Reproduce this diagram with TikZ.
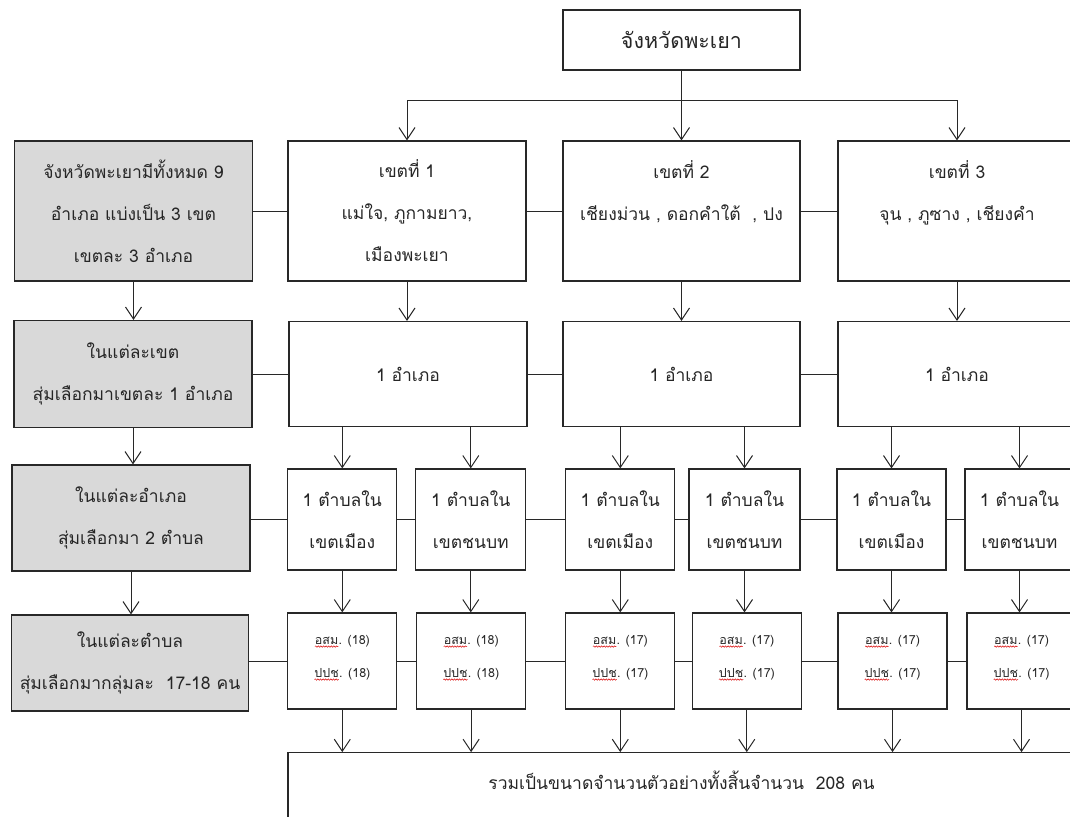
\documentclass[tikz,border=0pt]{standalone}
\usepackage{fontspec}
\setmainfont[Script=Thai]{Loma}
\usetikzlibrary{arrows.meta,decorations.pathmorphing}
\definecolor{gfill}{RGB}{217,217,217}
\definecolor{lcol}{RGB}{40,40,40}
\newcommand\wv[1]{\tikz[baseline=(w.base)]{\node[inner sep=0pt,outer sep=0pt,draw=none,fill=none,minimum width=0pt,minimum height=0pt,anchor=base] (w) at (0,0) {#1};\draw[red!85!black, line width=0.5pt, decorate, decoration={snake,amplitude=0.7pt,segment length=2.6pt}] ([yshift=-2.5pt]w.base west) -- ([yshift=-2.5pt]w.base east);}}
\tikzset{
  x=1pt, y=-1pt,
  box/.style={draw=lcol, line width=1.2pt, inner sep=0pt, align=center, text=black!85,
    font=\fontsize{17.5}{42}\selectfont},
  gbox/.style={box, fill=gfill},
  sbox/.style={box, font=\fontsize{12.5}{33}\selectfont},
  txt/.style={inner sep=0pt, align=center, text=black!85, font=\fontsize{17.5}{42}\selectfont},
  ln/.style={draw=lcol, line width=1pt},
  arr/.style={ln, -{Straight Barb[length=12pt,width=16pt,line width=1pt]}},
}
\begin{document}
\begin{tikzpicture}
\useasboundingbox (0,0) rectangle (1070,816);
\clip (0,0) rectangle (1070,816);
% top
\node[box, minimum width=237pt, minimum height=60pt, font=\fontsize{21.5}{26}\selectfont] (top) at (681.5,40) {จังหวัดพะเยา};
% row 1
\node[gbox, minimum width=238pt, minimum height=140pt] (g1) at (133.5,211) {จังหวัดพะเยามีทั้งหมด 9\\อำเภอ แบ่งเป็น 3 เขต\\เขตละ 3 อำเภอ};
\node[box, minimum width=238pt, minimum height=140pt] (b1) at (407,211) {เขตที่ 1\\แม่ใจ, ภูกามยาว,\\เมืองพะเยา};
\node[box, minimum width=237pt, minimum height=140pt] (b2) at (681.5,211) {เขตที่ 2\\เชียงม่วน , ดอกคำใต้ \ , ปง\\~};
\node[box, minimum width=238pt, minimum height=140pt] (b3) at (957,211) {เขตที่ 3\\จุน , ภูซาง , เชียงคำ\\~};
% row 2
\node[gbox, minimum width=238pt, minimum height=107pt] (g2) at (133,374) {ในแต่ละเขต\\สุ่มเลือกมาเขตละ 1 อำเภอ};
\node[box, minimum width=238pt, minimum height=105pt] (r2a) at (408,374) {1 อำเภอ};
\node[box, minimum width=237pt, minimum height=105pt] (r2b) at (681.5,374) {1 อำเภอ};
\node[box, minimum width=238pt, minimum height=105pt] (r2c) at (957,374) {1 อำเภอ};
% row 3
\node[gbox, minimum width=238pt, minimum height=106pt] (g3) at (131,518) {ในแต่ละอำเภอ\\สุ่มเลือกมา 2 ตำบล};
\node[box, minimum width=109pt, minimum height=101pt] (r3a) at (342.3,519.5) {1 ตำบลใน\\เขตเมือง};
\node[box, minimum width=110pt, minimum height=101pt] (r3b) at (470.8,519.5) {1 ตำบลใน\\เขตชนบท};
\node[box, minimum width=109pt, minimum height=101pt] (r3c) at (620.3,519.5) {1 ตำบลใน\\เขตเมือง};
\node[box, minimum width=111pt, minimum height=101pt] (r3d) at (744.5,519.5) {1 ตำบลใน\\เขตชนบท};
\node[box, minimum width=109pt, minimum height=101pt] (r3e) at (891.5,519.5) {1 ตำบลใน\\เขตเมือง};
\node[box, minimum width=109pt, minimum height=101pt] (r3f) at (1019.5,519.5) {1 ตำบลใน\\เขตชนบท};
% row 4
\node[gbox, minimum width=237pt, minimum height=96pt] (g4) at (130,663) {ในแต่ละตำบล\\สุ่มเลือกมากลุ่มละ~ 17-18 คน};
\node[sbox, minimum width=109pt, minimum height=96pt] (r4a) at (342.3,661) {\wv{อสม}. (18)\\\wv{ปปช}. (18)\\[-23pt]\mbox{}};
\node[sbox, minimum width=109pt, minimum height=96pt] (r4b) at (471.1,661) {\wv{อสม}. (18)\\\wv{ปปช}. (18)\\[-23pt]\mbox{}};
\node[sbox, minimum width=109pt, minimum height=96pt] (r4c) at (620.3,661) {\wv{อสม}. (17)\\\wv{ปปช}. (17)\\[-23pt]\mbox{}};
\node[sbox, minimum width=109pt, minimum height=96pt] (r4d) at (746.8,661) {\wv{อสม}. (17)\\\wv{ปปช}. (17)\\[-23pt]\mbox{}};
\node[sbox, minimum width=109pt, minimum height=96pt] (r4e) at (892.5,661) {\wv{อสม}. (17)\\\wv{ปปช}. (17)\\[-23pt]\mbox{}};
\node[sbox, minimum width=109pt, minimum height=96pt] (r4f) at (1021.5,661) {\wv{อสม}. (17)\\\wv{ปปช}. (17)\\[-23pt]\mbox{}};
% final
\node[box, minimum width=787pt, minimum height=120pt] (fin) at (681.5,812.7) {};
\node[txt] (fint) at (681.5,780.5) {รวมเป็นขนาดจำนวนตัวอย่างทั้งสิ้นจำนวน~ 208 คน};
% top connectors
\coordinate (bus) at (681.5,100);
\draw[ln] (top.south) -- (bus);
\draw[ln] (b1.north |- bus) -- (b3.north |- bus);
\draw[arr] (b1.north |- bus) -- (b1.north);
\draw[arr] (b2.north |- bus) -- (b2.north);
\draw[arr] (b3.north |- bus) -- (b3.north);
% horizontal connectors
\draw[ln] (g1.east) -- (b1.west);
\draw[ln] (b1.east) -- (b2.west);
\draw[ln] (b2.east) -- (b3.west);
\draw[ln] (g2.east) -- (r2a.west);
\draw[ln] (r2a.east) -- (r2b.west);
\draw[ln] (r2b.east) -- (r2c.west);
\draw[ln] (g3.east |- r3a.west) -- (r3a.west);
\draw[ln] (r3a.east) -- (r3b.west);
\draw[ln] (r3b.east) -- (r3c.west);
\draw[ln] (r3c.east) -- (r3d.west);
\draw[ln] (r3d.east) -- (r3e.west);
\draw[ln] (r3e.east) -- (r3f.west);
\draw[ln] (g4.east |- r4a.west) -- (r4a.west);
\draw[ln] (r4a.east) -- (r4b.west);
\draw[ln] (r4b.east) -- (r4c.west);
\draw[ln] (r4c.east) -- (r4d.west);
\draw[ln] (r4d.east) -- (r4e.west);
\draw[ln] (r4e.east) -- (r4f.west);
% left column arrows
\draw[arr] (g1.south) -- (g1.south |- g2.north);
\draw[arr] (g2.south) -- (g2.south |- g3.north);
\draw[arr] (g3.south) -- (g3.south |- g4.north);
% row1 -> row2
\draw[arr] (b1.south) -- (b1.south |- r2a.north);
\draw[arr] (b2.south) -- (b2.south |- r2b.north);
\draw[arr] (b3.south) -- (b3.south |- r2c.north);
% row2 -> row3
\draw[arr] (r3a.north |- r2a.south) -- (r3a.north);
\draw[arr] (r3b.north |- r2a.south) -- (r3b.north);
\draw[arr] (r3c.north |- r2b.south) -- (r3c.north);
\draw[arr] (r3d.north |- r2b.south) -- (r3d.north);
\draw[arr] (r3e.north |- r2c.south) -- (r3e.north);
\draw[arr] (r3f.north |- r2c.south) -- (r3f.north);
% row3 -> row4
\draw[arr] (r3a.south) -- (r3a.south |- r4a.north);
\draw[arr] (r3b.south) -- (r3b.south |- r4b.north);
\draw[arr] (r3c.south) -- (r3c.south |- r4c.north);
\draw[arr] (r3d.south) -- (r3d.south |- r4d.north);
\draw[arr] (r3e.south) -- (r3e.south |- r4e.north);
\draw[arr] (r3f.south) -- (r3f.south |- r4f.north);
% row4 -> final
\draw[arr] (r4a.south) -- (r4a.south |- fin.north);
\draw[arr] (r4b.south) -- (r4b.south |- fin.north);
\draw[arr] (r4c.south) -- (r4c.south |- fin.north);
\draw[arr] (r4d.south) -- (r4d.south |- fin.north);
\draw[arr] (r4e.south) -- (r4e.south |- fin.north);
\draw[arr] (r4f.south) -- (r4f.south |- fin.north);
\end{tikzpicture}
\end{document}
